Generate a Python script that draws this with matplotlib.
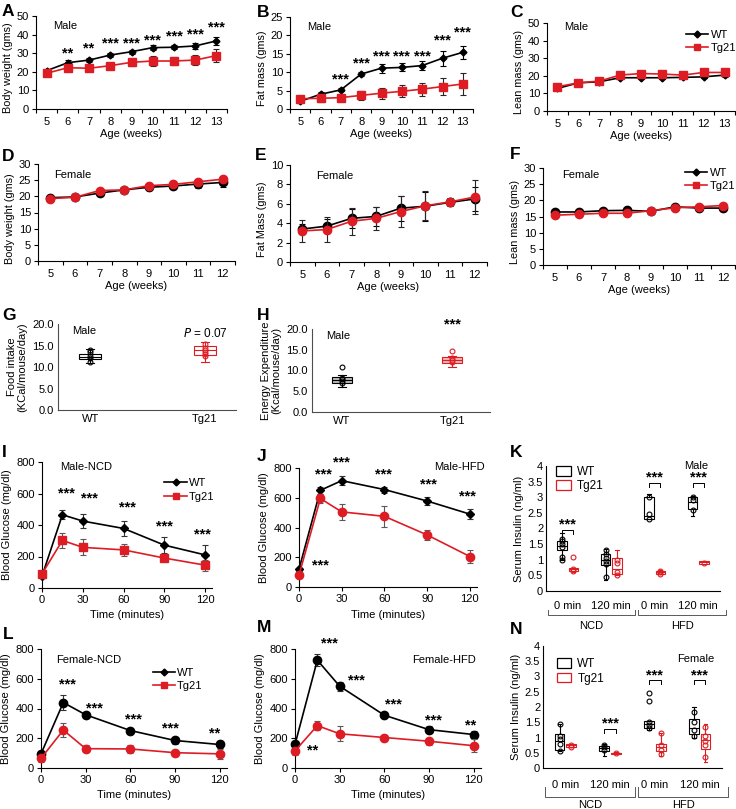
import numpy as np
import matplotlib
matplotlib.use("Agg")
import matplotlib.pyplot as plt
import matplotlib.transforms as mtransforms
from matplotlib.lines import Line2D
from matplotlib.patches import Patch

plt.rcParams['font.family'] = ['Liberation Sans', 'DejaVu Sans']
plt.rcParams['font.size'] = 8
plt.rcParams['axes.linewidth'] = 0.8

RED = '#dd1c24'
W, H = 736, 809

# ---------------- data ----------------
weeks_m = [5, 6, 7, 8, 9, 10, 11, 12, 13]
weeks_f = [5, 6, 7, 8, 9, 10, 11, 12]

# A body weight, male
a_wt = [20.6, 24.9, 26.3, 29.0, 30.8, 33.0, 33.2, 33.9, 36.6]
a_wt_err = [0.5, 1.2, 1.0, 1.0, 1.0, 1.5, 1.2, 1.8, 2.2]
a_tg = [19.2, 22.2, 21.9, 23.3, 25.1, 25.8, 25.8, 26.3, 28.7]
a_tg_err = [0.8, 2.0, 1.0, 1.2, 2.0, 2.5, 2.2, 2.5, 3.3]
a_star_x = [6, 7, 8, 9, 10, 11, 12, 13]
a_star_y = [29.6, 32.3, 35.0, 35.0, 36.7, 38.9, 40.3, 43.9]
a_star_t = ['**', '**', '***', '***', '***', '***', '***', '***']

# B fat mass, male
b_wt = [2.1, 4.0, 5.2, 9.5, 11.1, 11.3, 11.8, 13.8, 15.4]
b_wt_err = [0.5, 0.5, 0.4, 0.6, 1.2, 1.1, 1.3, 2.0, 1.8]
b_tg = [2.8, 2.9, 3.1, 3.7, 4.3, 4.8, 5.4, 6.1, 6.8]
b_tg_err = [0.5, 1.0, 0.8, 1.2, 1.5, 1.6, 1.8, 2.3, 3.0]
b_star_x = [7, 8, 9, 10, 11, 12, 13]
b_star_y = [7.9, 12.4, 14.4, 14.2, 14.4, 18.5, 20.9]

# C lean mass, male
c_wt = [12.8, 16.0, 16.6, 18.9, 18.9, 18.9, 19.1, 19.4, 20.4]
c_wt_err = [0.6, 0.5, 0.8, 0.6, 0.6, 0.6, 0.6, 0.6, 0.8]
c_tg = [13.8, 16.0, 17.0, 20.4, 21.3, 21.0, 20.4, 21.9, 21.9]
c_tg_err = [0.6, 0.5, 0.6, 0.6, 0.6, 0.6, 0.6, 0.6, 0.8]

# D body weight, female
d_wt = [19.6, 19.8, 21.0, 22.0, 22.8, 23.2, 23.8, 24.3]
d_wt_err = [0.8, 0.5, 0.7, 0.5, 0.8, 1.0, 1.2, 1.5]
d_tg = [19.3, 19.7, 21.8, 22.0, 23.3, 23.7, 24.5, 25.3]
d_tg_err = [0.5, 0.5, 0.5, 0.5, 0.5, 0.8, 0.8, 1.0]

# E fat mass, female
e_wt = [3.4, 3.7, 4.5, 4.7, 5.55, 5.75, 6.15, 6.5]
e_wt_err = [0.5, 0.7, 1.0, 1.0, 1.3, 1.5, 0.4, 1.2]
e_tg = [3.2, 3.35, 4.2, 4.5, 5.2, 5.8, 6.2, 6.7]
e_tg_err = [1.1, 1.3, 1.4, 1.2, 1.6, 1.5, 0.3, 1.8]

# F lean mass, female
f_wt = [16.4, 16.4, 16.8, 16.9, 16.6, 18.0, 17.6, 17.6]
f_wt_err = [0.4, 0.4, 0.5, 0.5, 0.5, 0.5, 0.6, 0.8]
f_tg = [15.4, 15.7, 16.0, 16.0, 16.8, 17.7, 18.0, 18.4]
f_tg_err = [0.4, 0.4, 0.5, 0.5, 0.5, 0.5, 0.5, 0.6]

# G food intake / H energy expenditure (box stats: q1, med, q3, lo, hi)
g_wt = [11.8, 12.4, 13.1, 11.0, 14.2]
g_wt_pts = [11.2, 12.2, 12.6, 13.5, 14.0]
g_tg = [12.9, 13.9, 15.0, 11.2, 15.8]
g_tg_pts = [12.5, 13.0, 13.5, 14.0, 14.5, 15.3]
h_wt = [7.0, 7.8, 8.4, 6.0, 8.9]
h_wt_pts = [7.0, 7.5, 8.0, 8.3]
h_wt_fly = [10.8]
h_tg = [11.8, 12.6, 13.3, 10.8, 13.6]
h_tg_pts = [12.0, 12.5, 13.0]
h_tg_fly = [14.7]

# glucose tolerance tests
minutes = [0, 15, 30, 60, 90, 120]
i_wt = [75, 465, 425, 378, 272, 210]
i_wt_err = [10, 30, 45, 45, 50, 60]
i_tg = [90, 302, 258, 242, 190, 145]
i_tg_err = [10, 45, 50, 40, 20, 35]
i_star_x = [18, 35, 63, 90, 118]
i_star_y = [600, 568, 512, 391, 337]
i_star_t = ['***', '***', '***', '***', '***']

j_wt = [120, 650, 715, 655, 578, 490]
j_wt_err = [10, 25, 30, 20, 25, 35]
j_tg = [80, 595, 505, 475, 350, 205]
j_tg_err = [10, 30, 55, 70, 35, 45]
j_star_x = [17, 30, 59, 91, 118, 15]
j_star_y = [758, 835, 758, 691, 607, 143]
j_star_t = ['***', '***', '***', '***', '***', '***']

l_wt = [95, 440, 358, 252, 185, 158]
l_wt_err = [20, 50, 20, 20, 25, 25]
l_tg = [65, 255, 130, 128, 103, 95]
l_tg_err = [25, 45, 25, 25, 20, 35]
l_star_x = [18, 36, 62, 87, 117]
l_star_y = [559, 401, 329, 264, 232]
l_star_t = ['***', '***', '***', '***', '**']

m_wt = [158, 725, 550, 355, 258, 225]
m_wt_err = [15, 40, 30, 20, 25, 25]
m_tg = [115, 285, 230, 205, 180, 150]
m_tg_err = [25, 30, 50, 20, 25, 45]
m_star_x = [23, 41, 66, 93, 118, 12]
m_star_y = [840, 588, 424, 322, 288, 119]
m_star_t = ['***', '***', '***', '***', '**', '**']

# serum insulin, groups: NCD 0 min, NCD 120 min, HFD 0 min, HFD 120 min
ins_groups = ['0 min', '120 min', '0 min', '120 min']
k_wt_q1 = [1.30, 0.82, 2.30, 2.62]
k_wt_med = [1.45, 1.00, 2.40, 2.85]
k_wt_q3 = [1.60, 1.20, 3.00, 3.00]
k_wt_lo = [1.00, 0.35, 2.30, 2.40]
k_wt_hi = [1.85, 1.35, 3.12, 3.05]
k_wt_fly = [[], [], [], []]
k_wt_pts = [[1.0, 1.1, 1.4, 1.5, 1.6, 1.65], [0.45, 0.85, 0.95, 1.05, 1.2, 1.3],
            [2.3, 2.45, 3.0], [2.6, 2.9, 3.0]]
k_tg_q1 = [0.65, 0.55, 0.55, 0.87]
k_tg_med = [0.70, 0.70, 0.60, 0.92]
k_tg_q3 = [0.75, 1.05, 0.65, 0.95]
k_tg_lo = [0.62, 0.50, 0.53, 0.85]
k_tg_hi = [0.75, 1.30, 0.67, 0.97]
k_tg_fly = [[1.1], [], [], []]
k_tg_pts = [[0.65, 0.7], [0.5, 0.6, 0.9, 1.0], [0.55, 0.6, 0.65], [0.9]]
k_sig_groups = [0, 2, 3]
k_sig_y = [1.95, 3.45, 3.45]

n_wt_q1 = [0.60, 0.55, 1.32, 1.12]
n_wt_med = [0.90, 0.65, 1.45, 1.30]
n_wt_q3 = [1.12, 0.72, 1.55, 1.60]
n_wt_lo = [0.55, 0.40, 1.25, 1.00]
n_wt_hi = [1.45, 0.80, 1.55, 2.00]
n_wt_fly = [[], [], [2.2, 2.45], []]
n_wt_pts = [[0.55, 0.8, 0.95, 1.05, 1.45], [0.6, 0.7, 0.75], [1.3, 1.4, 1.5],
            [1.05, 1.25, 1.5, 1.85]]
n_tg_q1 = [0.70, 0.46, 0.55, 0.62]
n_tg_med = [0.75, 0.48, 0.70, 0.92]
n_tg_q3 = [0.78, 0.50, 0.80, 1.12]
n_tg_lo = [0.68, 0.45, 0.40, 0.20]
n_tg_hi = [0.80, 0.51, 1.15, 1.45]
n_tg_fly = [[], [], [], []]
n_tg_pts = [[0.7, 0.75], [0.48], [0.45, 0.6, 0.75, 1.15], [0.35, 0.75, 0.9, 1.05, 1.35]]
n_sig_groups = [1, 2, 3]
n_sig_y = [1.28, 2.88, 2.88]

fig = plt.figure(figsize=(W / 100, H / 100), dpi=100)


def px(l, t, r, b):
    return [l / W, 1 - b / H, (r - l) / W, (b - t) / H]


def clean(ax):
    ax.spines['top'].set_visible(False)
    ax.spines['right'].set_visible(False)
    ax.tick_params(axis='y', direction='out', length=3, width=0.8, pad=2)


def stars(ax, xs, ys, ts):
    for x, y, t in zip(xs, ys, ts):
        ax.text(x, y, t, ha='center', va='center', fontsize=10.5, fontweight='bold', clip_on=False)


def week_panel(rect, weeks, wt, wt_err, tg, tg_err, ymax, ystep, ylabel, female=False):
    ax = fig.add_axes(px(*rect))
    clean(ax)
    if female:
        mw, mt, sw, st = 'o', 'o', 6, 6
    else:
        mw, mt, sw, st = 'D', 's', 3.5, 5.5
    ax.errorbar(weeks, wt, yerr=wt_err, color='black', marker=mw, ms=sw, lw=1.2,
                ecolor='black', elinewidth=0.8, capsize=2.5, capthick=0.8, zorder=3)
    ax.errorbar(weeks, tg, yerr=tg_err, color=RED, marker=mt, ms=st, lw=1.2,
                ecolor='0.15', elinewidth=0.8, capsize=2.5, capthick=0.8, zorder=4)
    ax.set_xlim(weeks[0] - 0.5, weeks[-1] + 0.5)
    ax.set_ylim(0, ymax)
    ax.set_yticks(np.arange(0, ymax + 0.01, ystep))
    ax.set_xticks(weeks)
    ax.set_xticks(np.arange(weeks[0] - 0.5, weeks[-1] + 0.6, 1), minor=True)
    ax.tick_params(axis='x', which='major', length=0, pad=5.5)
    ax.tick_params(axis='x', which='minor', length=3, width=0.8, direction='out')
    ax.set_xlabel('Age (weeks)', fontsize=8, labelpad=2)
    ax.set_ylabel(ylabel, fontsize=7.8, labelpad=3, y=0.44)
    return ax


def gtt_panel(rect, wt, wt_err, tg, tg_err, mw, mt):
    ax = fig.add_axes(px(*rect))
    clean(ax)
    sw = 4 if mw == 'D' else 6
    st = 6
    ax.errorbar(minutes, wt, yerr=wt_err, color='black', marker=mw, ms=sw, lw=1.2,
                ecolor='0.2', elinewidth=0.8, capsize=2.5, capthick=0.8, zorder=3, clip_on=False)
    ax.errorbar(minutes, tg, yerr=tg_err, color=RED, marker=mt, ms=st, lw=1.2,
                ecolor='0.35', elinewidth=0.8, capsize=2.5, capthick=0.8, zorder=4, clip_on=False)
    ax.set_xlim(0, 125)
    ax.set_ylim(0, 800)
    ax.set_yticks([0, 200, 400, 600, 800])
    ax.set_xticks([0, 30, 60, 90, 120])
    ax.tick_params(axis='x', length=3, width=0.8, pad=2)
    ax.set_xlabel('Time (minutes)', fontsize=8, labelpad=4)
    ax.set_ylabel('Blood Glucose (mg/dl)', fontsize=8, labelpad=3)
    return ax


def line_legend(ax, anchor):
    hs = [Line2D([], [], color='black', marker='D', ms=3.5, lw=1.2),
          Line2D([], [], color=RED, marker='s', ms=4, lw=1.2)]
    ax.legend(hs, ['WT', 'Tg21'], loc='upper left', bbox_to_anchor=anchor, frameon=False,
              fontsize=8, handlelength=2.0, handletextpad=0.2, labelspacing=0.3, borderpad=0,
              borderaxespad=0)


def draw_boxes(ax, pos, q1, med, q3, lo, hi, fly, pts, color, width, face='none'):
    stats = []
    for i in range(len(pos)):
        stats.append({'q1': q1[i], 'med': med[i], 'q3': q3[i], 'whislo': lo[i],
                      'whishi': hi[i], 'fliers': fly[i]})
    ax.bxp(stats, positions=pos, widths=width, patch_artist=True, manage_ticks=False,
           boxprops=dict(facecolor=face, edgecolor=color, linewidth=0.8),
           medianprops=dict(color=color, linewidth=0.8),
           whiskerprops=dict(color=color, linewidth=0.8),
           capprops=dict(color=color, linewidth=0.8),
           capwidths=width * 0.35,
           flierprops=dict(marker='o', mfc='none', mec=color, ms=3.5, mew=0.8))
    for p, vals in zip(pos, pts):
        ax.plot([p] * len(vals), vals, 'o', mfc='none', mec=color, ms=3.5, mew=0.8, zorder=5)


def insulin_panel(rect, wt, tg, sig_groups, sig_y, brk):
    ax = fig.add_axes(px(*rect))
    clean(ax)
    centers = np.arange(1, 5)
    draw_boxes(ax, centers - 0.13, *wt, color='black', width=0.22)
    draw_boxes(ax, centers + 0.13, *tg, color=RED, width=0.22)
    ax.set_xlim(0.5, 4.5)
    ax.set_ylim(0, 4)
    ax.set_yticks(np.arange(0, 4.01, 0.5))
    ax.set_yticklabels(['0', '0.5', '1', '1.5', '2', '2.5', '3', '3.5', '4'])
    ax.set_xticks(centers)
    ax.set_xticklabels(ins_groups, fontsize=8)
    ax.tick_params(axis='x', length=0, pad=brk[0])
    ax.tick_params(axis='y', length=0, labelsize=8)
    ax.set_ylabel('Serum Insulin (ng/ml)', fontsize=8, labelpad=3)
    for g, y in zip(sig_groups, sig_y):
        x1, x2 = centers[g] - 0.13, centers[g] + 0.13
        ax.plot([x1, x1, x2, x2], [y - 0.13, y, y, y - 0.13], color='black', lw=0.7)
        ax.text((x1 + x2) / 2, y + 0.17, '***', ha='center', va='center', fontsize=10.5,
                fontweight='bold')
    trans = mtransforms.blended_transform_factory(ax.transData, ax.transAxes)
    for x1, x2, lab in [(0.55, 2.55, 'NCD'), (2.62, 4.64, 'HFD')]:
        ax.plot([x1, x1, x2, x2], [brk[1], brk[2], brk[2], brk[1]], transform=trans,
                color='0.35', lw=0.7, clip_on=False)
        ax.text((x1 + x2) / 2, brk[3], lab, transform=trans, ha='center', va='center', fontsize=8)
    hs = [Patch(facecolor='none', edgecolor='black', linewidth=0.9),
          Patch(facecolor='none', edgecolor=RED, linewidth=0.9)]
    return ax, hs


# ---------------- row 1 ----------------
ax = week_panel((36, 16, 227, 109), weeks_m, a_wt, a_wt_err, a_tg, a_tg_err, 50, 10, 'Body weight (gms)')
stars(ax, a_star_x, a_star_y, a_star_t)
ax.text(5.3, 44.6, 'Male', fontsize=8, va='center')

ax = week_panel((290, 17, 473, 109), weeks_m, b_wt, b_wt_err, b_tg, b_tg_err, 25, 5, 'Fat mass (gms)')
stars(ax, b_star_x, b_star_y, ['***'] * len(b_star_x))
ax.text(5.34, 22.3, 'Male', fontsize=8, va='center')

ax = week_panel((547, 23, 735, 111), weeks_m, c_wt, c_wt_err, c_tg, c_tg_err, 50, 10, 'Lean mass (gms)')
ax.text(5.3, 47.7, 'Male', fontsize=8, va='center')
line_legend(ax, (0.74, 0.92))

# ---------------- row 2 ----------------
ax = week_panel((38, 164, 235, 261), weeks_f, d_wt, d_wt_err, d_tg, d_tg_err, 30, 5, 'Body weight (gms)', True)
ax.text(5.16, 26.6, 'Female', fontsize=8, va='center')

ax = week_panel((290, 165, 487, 262), weeks_f, e_wt, e_wt_err, e_tg, e_tg_err, 10, 2, 'Fat Mass (gms)', True)
ax.text(5.57, 8.9, 'Female', fontsize=8, va='center')

ax = week_panel((543, 168, 735, 265), weeks_f, f_wt, f_wt_err, f_tg, f_tg_err, 30, 5, 'Lean mass (gms)', True)
ax.text(5.3, 27.8, 'Female', fontsize=8, va='center')
line_legend(ax, (0.74, 1.0))

# ---------------- row 3 ----------------
for rect, wt, wt_pts, wt_fly, tg, tg_pts, tg_fly, lims, ylab, fills in [
        ((58, 324, 236, 410), g_wt, g_wt_pts, [], g_tg, g_tg_pts, [], (0.72, 2.27),
         'Food intake\n(KCal/mouse/day)', ('white', 'white')),
        ((312, 329, 490, 412), h_wt, h_wt_pts, h_wt_fly, h_tg, h_tg_pts, h_tg_fly, (0.727, 2.345),
         'Energy Expenditure\n(Kcal/mouse/day)', ('#bdbdbd', '#f6b8b8'))]:
    ax = fig.add_axes(px(*rect))
    clean(ax)
    draw_boxes(ax, [1], [wt[0]], [wt[1]], [wt[2]], [wt[3]], [wt[4]], [wt_fly], [wt_pts],
               color='black', width=0.19, face=fills[0])
    draw_boxes(ax, [2], [tg[0]], [tg[1]], [tg[2]], [tg[3]], [tg[4]], [tg_fly], [tg_pts],
               color=RED, width=0.19, face=fills[1])
    ax.set_xlim(*lims)
    ax.set_ylim(0, 20)
    ax.set_yticks([0, 5, 10, 15, 20])
    ax.set_yticklabels(['0.0', '5.0', '10.0', '15.0', '20.0'], fontsize=8)
    ax.set_xticks([1, 2])
    ax.set_xticklabels(['WT', 'Tg21'], fontsize=8)
    ax.tick_params(axis='both', length=0, pad=3)
    for s in ['left', 'bottom']:
        ax.spines[s].set_color('0.3')
    ax.set_ylabel(ylab, fontsize=8, labelpad=4, linespacing=1.0)
    ax.text(0.08, 0.92, 'Male', transform=ax.transAxes, fontsize=8, va='center')
    if rect[0] == 58:
        ax.text(2, 17.9, r'$P$ = 0.07', ha='center', va='center', fontsize=8.5)
    else:
        ax.text(2, 21, '***', ha='center', va='center', fontsize=10.5, fontweight='bold', clip_on=False)

# ---------------- row 4 ----------------
ax = gtt_panel((42, 462, 212, 588), i_wt, i_wt_err, i_tg, i_tg_err, 'D', 's')
stars(ax, i_star_x, i_star_y, i_star_t)
ax.text(13, 768, 'Male-NCD', fontsize=8, va='center')
line_legend(ax, (0.72, 0.87))

ax = gtt_panel((299, 468, 477, 587), j_wt, j_wt_err, j_tg, j_tg_err, 'D', 'o')
stars(ax, j_star_x, j_star_y, j_star_t)
ax.text(1.045, 1.01, 'Male-HFD', transform=ax.transAxes, fontsize=8, ha='right', va='center')

ax, hs = insulin_panel((546, 466, 720, 591),
                       (k_wt_q1, k_wt_med, k_wt_q3, k_wt_lo, k_wt_hi, k_wt_fly, k_wt_pts),
                       (k_tg_q1, k_tg_med, k_tg_q3, k_tg_lo, k_tg_hi, k_tg_fly, k_tg_pts),
                       k_sig_groups, k_sig_y, (7, -0.15, -0.19, -0.28))
ax.legend(hs, ['WT', 'Tg21'], loc='upper left', bbox_to_anchor=(0.06, 1.0), frameon=False,
          fontsize=8.5, handlelength=1.2, handleheight=0.9, handletextpad=0.5, labelspacing=0.2,
          borderpad=0, borderaxespad=0)
ax.text(0.93, 1.0, 'Male', transform=ax.transAxes, fontsize=8, ha='right', va='center')

# ---------------- row 5 ----------------
ax = gtt_panel((41, 649, 227, 768), l_wt, l_wt_err, l_tg, l_tg_err, 'o', 'o')
stars(ax, l_star_x, l_star_y, l_star_t)
ax.text(10, 726, 'Female-NCD', fontsize=8, va='center')
line_legend(ax, (0.60, 0.84))

ax = gtt_panel((295, 649, 481, 768), m_wt, m_wt_err, m_tg, m_tg_err, 'o', 'o')
stars(ax, m_star_x, m_star_y, m_star_t)
ax.text(0.973, 0.908, 'Female-HFD', transform=ax.transAxes, fontsize=8, ha='right', va='center')

ax, hs = insulin_panel((543, 646, 722, 768),
                       (n_wt_q1, n_wt_med, n_wt_q3, n_wt_lo, n_wt_hi, n_wt_fly, n_wt_pts),
                       (n_tg_q1, n_tg_med, n_tg_q3, n_tg_lo, n_tg_hi, n_tg_fly, n_tg_pts),
                       n_sig_groups, n_sig_y, (8.5, -0.155, -0.24, -0.30))
ax.legend(hs, ['WT', 'Tg21'], loc='upper left', bbox_to_anchor=(0.08, 0.9), frameon=False,
          fontsize=8.5, handlelength=1.2, handleheight=0.9, handletextpad=0.5, labelspacing=0.2,
          borderpad=0, borderaxespad=0)
ax.text(0.96, 0.89, 'Female', transform=ax.transAxes, fontsize=8, ha='right', va='center')

# panel letters
for lab, x, y in [('A', 2, 4), ('B', 257, 5), ('C', 510, 5), ('D', 2, 149), ('E', 255, 148),
                  ('F', 510, 147), ('G', 2, 308), ('H', 257, 308), ('I', 2, 445), ('J', 257, 449),
                  ('K', 510, 445), ('L', 3, 627), ('M', 257, 620), ('N', 510, 622)]:
    fig.text(x / W, 1 - y / H, lab, fontsize=12.5, fontweight='bold', ha='left', va='top')

fig.savefig('out.png', dpi=100)
